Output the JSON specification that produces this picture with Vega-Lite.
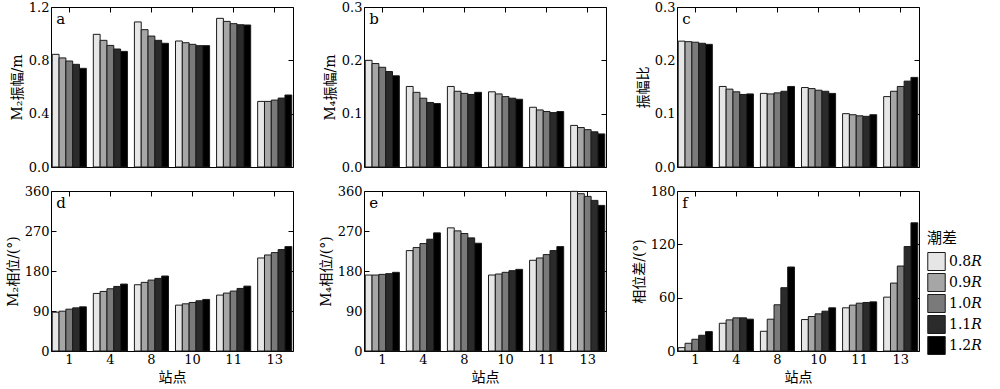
{
  "$schema": "https://vega.github.io/schema/vega-lite/v6.json",
  "padding": {"left": 5, "top": 0, "right": 0, "bottom": 0},
  "datasets": {
    "a": [
      {"s":1,"l":"0.8R","v":0.845},{"s":1,"l":"0.9R","v":0.818},{"s":1,"l":"1.0R","v":0.795},{"s":1,"l":"1.1R","v":0.770},{"s":1,"l":"1.2R","v":0.740},
      {"s":4,"l":"0.8R","v":0.995},{"s":4,"l":"0.9R","v":0.950},{"s":4,"l":"1.0R","v":0.912},{"s":4,"l":"1.1R","v":0.885},{"s":4,"l":"1.2R","v":0.867},
      {"s":8,"l":"0.8R","v":1.088},{"s":8,"l":"0.9R","v":1.030},{"s":8,"l":"1.0R","v":0.982},{"s":8,"l":"1.1R","v":0.950},{"s":8,"l":"1.2R","v":0.928},
      {"s":10,"l":"0.8R","v":0.945},{"s":10,"l":"0.9R","v":0.932},{"s":10,"l":"1.0R","v":0.920},{"s":10,"l":"1.1R","v":0.910},{"s":10,"l":"1.2R","v":0.910},
      {"s":11,"l":"0.8R","v":1.115},{"s":11,"l":"0.9R","v":1.092},{"s":11,"l":"1.0R","v":1.075},{"s":11,"l":"1.1R","v":1.067},{"s":11,"l":"1.2R","v":1.065},
      {"s":13,"l":"0.8R","v":0.492},{"s":13,"l":"0.9R","v":0.492},{"s":13,"l":"1.0R","v":0.502},{"s":13,"l":"1.1R","v":0.517},{"s":13,"l":"1.2R","v":0.540}
    ],
    "b": [
      {"s":1,"l":"0.8R","v":0.200},{"s":1,"l":"0.9R","v":0.194},{"s":1,"l":"1.0R","v":0.187},{"s":1,"l":"1.1R","v":0.179},{"s":1,"l":"1.2R","v":0.171},
      {"s":4,"l":"0.8R","v":0.151},{"s":4,"l":"0.9R","v":0.140},{"s":4,"l":"1.0R","v":0.129},{"s":4,"l":"1.1R","v":0.121},{"s":4,"l":"1.2R","v":0.119},
      {"s":8,"l":"0.8R","v":0.151},{"s":8,"l":"0.9R","v":0.142},{"s":8,"l":"1.0R","v":0.138},{"s":8,"l":"1.1R","v":0.136},{"s":8,"l":"1.2R","v":0.140},
      {"s":10,"l":"0.8R","v":0.141},{"s":10,"l":"0.9R","v":0.137},{"s":10,"l":"1.0R","v":0.132},{"s":10,"l":"1.1R","v":0.129},{"s":10,"l":"1.2R","v":0.127},
      {"s":11,"l":"0.8R","v":0.112},{"s":11,"l":"0.9R","v":0.107},{"s":11,"l":"1.0R","v":0.104},{"s":11,"l":"1.1R","v":0.102},{"s":11,"l":"1.2R","v":0.104},
      {"s":13,"l":"0.8R","v":0.078},{"s":13,"l":"0.9R","v":0.074},{"s":13,"l":"1.0R","v":0.070},{"s":13,"l":"1.1R","v":0.066},{"s":13,"l":"1.2R","v":0.062}
    ],
    "c": [
      {"s":1,"l":"0.8R","v":0.236},{"s":1,"l":"0.9R","v":0.235},{"s":1,"l":"1.0R","v":0.234},{"s":1,"l":"1.1R","v":0.232},{"s":1,"l":"1.2R","v":0.230},
      {"s":4,"l":"0.8R","v":0.151},{"s":4,"l":"0.9R","v":0.146},{"s":4,"l":"1.0R","v":0.141},{"s":4,"l":"1.1R","v":0.136},{"s":4,"l":"1.2R","v":0.137},
      {"s":8,"l":"0.8R","v":0.138},{"s":8,"l":"0.9R","v":0.137},{"s":8,"l":"1.0R","v":0.139},{"s":8,"l":"1.1R","v":0.142},{"s":8,"l":"1.2R","v":0.151},
      {"s":10,"l":"0.8R","v":0.149},{"s":10,"l":"0.9R","v":0.147},{"s":10,"l":"1.0R","v":0.144},{"s":10,"l":"1.1R","v":0.142},{"s":10,"l":"1.2R","v":0.138},
      {"s":11,"l":"0.8R","v":0.100},{"s":11,"l":"0.9R","v":0.098},{"s":11,"l":"1.0R","v":0.096},{"s":11,"l":"1.1R","v":0.095},{"s":11,"l":"1.2R","v":0.098},
      {"s":13,"l":"0.8R","v":0.132},{"s":13,"l":"0.9R","v":0.142},{"s":13,"l":"1.0R","v":0.151},{"s":13,"l":"1.1R","v":0.161},{"s":13,"l":"1.2R","v":0.168}
    ],
    "d": [
      {"s":1,"l":"0.8R","v":87.3},{"s":1,"l":"0.9R","v":89.6},{"s":1,"l":"1.0R","v":94.1},{"s":1,"l":"1.1R","v":97.1},{"s":1,"l":"1.2R","v":99.4},
      {"s":4,"l":"0.8R","v":129.5},{"s":4,"l":"0.9R","v":134.0},{"s":4,"l":"1.0R","v":140.0},{"s":4,"l":"1.1R","v":145.3},{"s":4,"l":"1.2R","v":150.6},
      {"s":8,"l":"0.8R","v":149.1},{"s":8,"l":"0.9R","v":154.4},{"s":8,"l":"1.0R","v":159.6},{"s":8,"l":"1.1R","v":163.4},{"s":8,"l":"1.2R","v":168.7},
      {"s":10,"l":"0.8R","v":103.2},{"s":10,"l":"0.9R","v":106.2},{"s":10,"l":"1.0R","v":109.2},{"s":10,"l":"1.1R","v":113.0},{"s":10,"l":"1.2R","v":116.0},
      {"s":11,"l":"0.8R","v":125.8},{"s":11,"l":"0.9R","v":130.3},{"s":11,"l":"1.0R","v":134.8},{"s":11,"l":"1.1R","v":140.8},{"s":11,"l":"1.2R","v":146.0},
      {"s":13,"l":"0.8R","v":209.3},{"s":13,"l":"0.9R","v":216.1},{"s":13,"l":"1.0R","v":221.4},{"s":13,"l":"1.1R","v":228.2},{"s":13,"l":"1.2R","v":234.9}
    ],
    "e": [
      {"s":1,"l":"0.8R","v":170.9},{"s":1,"l":"0.9R","v":170.9},{"s":1,"l":"1.0R","v":172.4},{"s":1,"l":"1.1R","v":174.0},{"s":1,"l":"1.2R","v":177.0},
      {"s":4,"l":"0.8R","v":225.9},{"s":4,"l":"0.9R","v":232.7},{"s":4,"l":"1.0R","v":241.7},{"s":4,"l":"1.1R","v":251.5},{"s":4,"l":"1.2R","v":265.8},
      {"s":8,"l":"0.8R","v":277.1},{"s":8,"l":"0.9R","v":270.3},{"s":8,"l":"1.0R","v":264.3},{"s":8,"l":"1.1R","v":254.5},{"s":8,"l":"1.2R","v":242.5},
      {"s":10,"l":"0.8R","v":170.9},{"s":10,"l":"0.9R","v":173.2},{"s":10,"l":"1.0R","v":177.0},{"s":10,"l":"1.1R","v":180.7},{"s":10,"l":"1.2R","v":183.7},
      {"s":11,"l":"0.8R","v":204.1},{"s":11,"l":"0.9R","v":209.3},{"s":11,"l":"1.0R","v":216.9},{"s":11,"l":"1.1R","v":225.9},{"s":11,"l":"1.2R","v":234.9},
      {"s":13,"l":"0.8R","v":359.2},{"s":13,"l":"0.9R","v":353.9},{"s":13,"l":"1.0R","v":347.9},{"s":13,"l":"1.1R","v":338.9},{"s":13,"l":"1.2R","v":327.6}
    ],
    "f": [
      {"s":1,"l":"0.8R","v":3.8},{"s":1,"l":"0.9R","v":8.7},{"s":1,"l":"1.0R","v":13.2},{"s":1,"l":"1.1R","v":17.7},{"s":1,"l":"1.2R","v":21.8},
      {"s":4,"l":"0.8R","v":31.2},{"s":4,"l":"0.9R","v":35.0},{"s":4,"l":"1.0R","v":37.3},{"s":4,"l":"1.1R","v":37.3},{"s":4,"l":"1.2R","v":35.8},
      {"s":8,"l":"0.8R","v":22.2},{"s":8,"l":"0.9R","v":35.8},{"s":8,"l":"1.0R","v":52.0},{"s":8,"l":"1.1R","v":71.2},{"s":8,"l":"1.2R","v":94.5},
      {"s":10,"l":"0.8R","v":35.4},{"s":10,"l":"0.9R","v":38.8},{"s":10,"l":"1.0R","v":41.8},{"s":10,"l":"1.1R","v":44.8},{"s":10,"l":"1.2R","v":48.6},
      {"s":11,"l":"0.8R","v":48.6},{"s":11,"l":"0.9R","v":51.6},{"s":11,"l":"1.0R","v":53.8},{"s":11,"l":"1.1R","v":54.6},{"s":11,"l":"1.2R","v":55.3},
      {"s":13,"l":"0.8R","v":60.6},{"s":13,"l":"0.9R","v":76.4},{"s":13,"l":"1.0R","v":95.6},{"s":13,"l":"1.1R","v":117.5},{"s":13,"l":"1.2R","v":144.2}
    ],
    "lab_a": [{"t":"a"}], "lab_b": [{"t":"b"}], "lab_c": [{"t":"c"}],
    "lab_d": [{"t":"d"}], "lab_e": [{"t":"e"}], "lab_f": [{"t":"f"}]
  },
  "concat": [
    {
      "width": 242, "height": 160,
      "resolve": {"axis": {"x": "independent", "y": "independent"}},
      "layer": [
        {"data": {"name": "a"}, "mark": {"type": "bar", "stroke": "#1a1a1a", "strokeWidth": 1},
         "encoding": {
           "x": {"field": "s", "type": "ordinal", "scale": {"paddingInner": 0.17, "paddingOuter": 0.03}, "axis": {"labels": false, "title": null}},
           "xOffset": {"field": "l", "type": "nominal", "scale": {"paddingInner": 0, "paddingOuter": 0}},
           "y": {"field": "v", "type": "quantitative", "scale": {"domain": [0, 1.2], "nice": false}, "axis": {"values": [0, 0.4, 0.8, 1.2], "format": ".1f", "title": "M₂振幅/m"}},
           "color": {"field": "l", "type": "nominal", "scale": {"domain": ["0.8R","0.9R","1.0R","1.1R","1.2R"], "range": ["#e6e6e6","#a6a6a6","#7a7a7a","#2b2b2b","#000000"]}, "legend": null}
         }},
        {"data": {"name": "a"}, "mark": {"type": "point", "opacity": 0},
         "encoding": {
           "x": {"field": "s", "type": "ordinal", "axis": {"orient": "top", "labels": false, "title": null}},
           "y": {"field": "v", "type": "quantitative", "axis": {"orient": "right", "labels": false, "title": null, "values": [0, 0.4, 0.8, 1.2]}}
         }},
        {"data": {"name": "lab_a"}, "mark": {"type": "text", "align": "left", "baseline": "top", "dx": 4, "dy": 5, "fontSize": 15},
         "encoding": {
           "x": {"datum": 1, "type": "ordinal", "bandPosition": 0, "axis": null},
           "y": {"datum": 1.2, "type": "quantitative", "axis": null},
           "text": {"field": "t"}
         }}
      ]
    },
    {
      "width": 242, "height": 160,
      "resolve": {"axis": {"x": "independent", "y": "independent"}},
      "layer": [
        {"data": {"name": "b"}, "mark": {"type": "bar", "stroke": "#1a1a1a", "strokeWidth": 1},
         "encoding": {
           "x": {"field": "s", "type": "ordinal", "scale": {"paddingInner": 0.17, "paddingOuter": 0.03}, "axis": {"labels": false, "title": null}},
           "xOffset": {"field": "l", "type": "nominal", "scale": {"paddingInner": 0, "paddingOuter": 0}},
           "y": {"field": "v", "type": "quantitative", "scale": {"domain": [0, 0.3], "nice": false}, "axis": {"values": [0, 0.1, 0.2, 0.3], "format": ".1f", "title": "M₄振幅/m"}},
           "color": {"field": "l", "type": "nominal", "scale": {"domain": ["0.8R","0.9R","1.0R","1.1R","1.2R"], "range": ["#e6e6e6","#a6a6a6","#7a7a7a","#2b2b2b","#000000"]}, "legend": null}
         }},
        {"data": {"name": "b"}, "mark": {"type": "point", "opacity": 0},
         "encoding": {
           "x": {"field": "s", "type": "ordinal", "axis": {"orient": "top", "labels": false, "title": null}},
           "y": {"field": "v", "type": "quantitative", "axis": {"orient": "right", "labels": false, "title": null, "values": [0, 0.1, 0.2, 0.3]}}
         }},
        {"data": {"name": "lab_b"}, "mark": {"type": "text", "align": "left", "baseline": "top", "dx": 4, "dy": 5, "fontSize": 15},
         "encoding": {
           "x": {"datum": 1, "type": "ordinal", "bandPosition": 0, "axis": null},
           "y": {"datum": 0.3, "type": "quantitative", "axis": null},
           "text": {"field": "t"}
         }}
      ]
    },
    {
      "width": 242, "height": 160,
      "resolve": {"axis": {"x": "independent", "y": "independent"}},
      "layer": [
        {"data": {"name": "c"}, "mark": {"type": "bar", "stroke": "#1a1a1a", "strokeWidth": 1},
         "encoding": {
           "x": {"field": "s", "type": "ordinal", "scale": {"paddingInner": 0.17, "paddingOuter": 0.03}, "axis": {"labels": false, "title": null}},
           "xOffset": {"field": "l", "type": "nominal", "scale": {"paddingInner": 0, "paddingOuter": 0}},
           "y": {"field": "v", "type": "quantitative", "scale": {"domain": [0, 0.3], "nice": false}, "axis": {"values": [0, 0.1, 0.2, 0.3], "format": ".1f", "title": "振幅比"}},
           "color": {"field": "l", "type": "nominal", "scale": {"domain": ["0.8R","0.9R","1.0R","1.1R","1.2R"], "range": ["#e6e6e6","#a6a6a6","#7a7a7a","#2b2b2b","#000000"]}, "legend": null}
         }},
        {"data": {"name": "c"}, "mark": {"type": "point", "opacity": 0},
         "encoding": {
           "x": {"field": "s", "type": "ordinal", "axis": {"orient": "top", "labels": false, "title": null}},
           "y": {"field": "v", "type": "quantitative", "axis": {"orient": "right", "labels": false, "title": null, "values": [0, 0.1, 0.2, 0.3]}}
         }},
        {"data": {"name": "lab_c"}, "mark": {"type": "text", "align": "left", "baseline": "top", "dx": 4, "dy": 5, "fontSize": 15},
         "encoding": {
           "x": {"datum": 1, "type": "ordinal", "bandPosition": 0, "axis": null},
           "y": {"datum": 0.3, "type": "quantitative", "axis": null},
           "text": {"field": "t"}
         }}
      ]
    },
    {
      "width": 242, "height": 160,
      "resolve": {"axis": {"x": "independent", "y": "independent"}},
      "layer": [
        {"data": {"name": "d"}, "mark": {"type": "bar", "stroke": "#1a1a1a", "strokeWidth": 1},
         "encoding": {
           "x": {"field": "s", "type": "ordinal", "scale": {"paddingInner": 0.17, "paddingOuter": 0.03}, "axis": {"title": "站点"}},
           "xOffset": {"field": "l", "type": "nominal", "scale": {"paddingInner": 0, "paddingOuter": 0}},
           "y": {"field": "v", "type": "quantitative", "scale": {"domain": [0, 360], "nice": false}, "axis": {"values": [0, 90, 180, 270, 360], "title": "M₂相位/(°)"}},
           "color": {"field": "l", "type": "nominal", "scale": {"domain": ["0.8R","0.9R","1.0R","1.1R","1.2R"], "range": ["#e6e6e6","#a6a6a6","#7a7a7a","#2b2b2b","#000000"]}, "legend": null}
         }},
        {"data": {"name": "d"}, "mark": {"type": "point", "opacity": 0},
         "encoding": {
           "x": {"field": "s", "type": "ordinal", "axis": {"orient": "top", "labels": false, "title": null}},
           "y": {"field": "v", "type": "quantitative", "axis": {"orient": "right", "labels": false, "title": null, "values": [0, 90, 180, 270, 360]}}
         }},
        {"data": {"name": "lab_d"}, "mark": {"type": "text", "align": "left", "baseline": "top", "dx": 4, "dy": 5, "fontSize": 15},
         "encoding": {
           "x": {"datum": 1, "type": "ordinal", "bandPosition": 0, "axis": null},
           "y": {"datum": 360, "type": "quantitative", "axis": null},
           "text": {"field": "t"}
         }}
      ]
    },
    {
      "width": 242, "height": 160,
      "resolve": {"axis": {"x": "independent", "y": "independent"}},
      "layer": [
        {"data": {"name": "e"}, "mark": {"type": "bar", "stroke": "#1a1a1a", "strokeWidth": 1},
         "encoding": {
           "x": {"field": "s", "type": "ordinal", "scale": {"paddingInner": 0.17, "paddingOuter": 0.03}, "axis": {"title": "站点"}},
           "xOffset": {"field": "l", "type": "nominal", "scale": {"paddingInner": 0, "paddingOuter": 0}},
           "y": {"field": "v", "type": "quantitative", "scale": {"domain": [0, 360], "nice": false}, "axis": {"values": [0, 90, 180, 270, 360], "title": "M₄相位/(°)"}},
           "color": {"field": "l", "type": "nominal", "scale": {"domain": ["0.8R","0.9R","1.0R","1.1R","1.2R"], "range": ["#e6e6e6","#a6a6a6","#7a7a7a","#2b2b2b","#000000"]}, "legend": null}
         }},
        {"data": {"name": "e"}, "mark": {"type": "point", "opacity": 0},
         "encoding": {
           "x": {"field": "s", "type": "ordinal", "axis": {"orient": "top", "labels": false, "title": null}},
           "y": {"field": "v", "type": "quantitative", "axis": {"orient": "right", "labels": false, "title": null, "values": [0, 90, 180, 270, 360]}}
         }},
        {"data": {"name": "lab_e"}, "mark": {"type": "text", "align": "left", "baseline": "top", "dx": 4, "dy": 5, "fontSize": 15},
         "encoding": {
           "x": {"datum": 1, "type": "ordinal", "bandPosition": 0, "axis": null},
           "y": {"datum": 360, "type": "quantitative", "axis": null},
           "text": {"field": "t"}
         }}
      ]
    },
    {
      "width": 242, "height": 160,
      "resolve": {"axis": {"x": "independent", "y": "independent"}},
      "layer": [
        {"data": {"name": "f"}, "mark": {"type": "bar", "stroke": "#1a1a1a", "strokeWidth": 1},
         "encoding": {
           "x": {"field": "s", "type": "ordinal", "scale": {"paddingInner": 0.17, "paddingOuter": 0.03}, "axis": {"title": "站点"}},
           "xOffset": {"field": "l", "type": "nominal", "scale": {"paddingInner": 0, "paddingOuter": 0}},
           "y": {"field": "v", "type": "quantitative", "scale": {"domain": [0, 180], "nice": false}, "axis": {"values": [0, 60, 120, 180], "title": "相位差/(°)"}},
           "color": {"field": "l", "type": "nominal", "scale": {"domain": ["0.8R","0.9R","1.0R","1.1R","1.2R"], "range": ["#e6e6e6","#a6a6a6","#7a7a7a","#2b2b2b","#000000"]},
             "legend": {"title": "潮差", "orient": "none", "legendX": 250, "legendY": 40, "symbolType": "M-0.97,-1H0.97V1H-0.97Z", "symbolSize": 324, "symbolStrokeColor": "#1a1a1a", "symbolStrokeWidth": 1, "symbolOpacity": 1, "rowPadding": -4, "labelFontSize": 14, "titleFontSize": 15, "titleFontWeight": "normal", "labelOffset": 3, "titlePadding": 6, "labelExpr": "replace(datum.label, 'R', '𝑅')"}}
         }},
        {"data": {"name": "f"}, "mark": {"type": "point", "opacity": 0},
         "encoding": {
           "x": {"field": "s", "type": "ordinal", "axis": {"orient": "top", "labels": false, "title": null}},
           "y": {"field": "v", "type": "quantitative", "axis": {"orient": "right", "labels": false, "title": null, "values": [0, 60, 120, 180]}}
         }},
        {"data": {"name": "lab_f"}, "mark": {"type": "text", "align": "left", "baseline": "top", "dx": 4, "dy": 5, "fontSize": 15},
         "encoding": {
           "x": {"datum": 1, "type": "ordinal", "bandPosition": 0, "axis": null},
           "y": {"datum": 180, "type": "quantitative", "axis": null},
           "text": {"field": "t"}
         }}
      ]
    }
  ],
  "columns": 3,
  "spacing": {"row": 9, "column": 24},
  "resolve": {"scale": {"color": "independent"}, "legend": {"color": "independent"}},
  "config": {
    "font": "DejaVu Serif, Noto Sans CJK SC",
    "view": {"stroke": "#000000", "strokeWidth": 1},
    "axis": {"grid": false, "domain": false, "tickColor": "#000000", "tickSize": -5, "tickWidth": 1, "labelFont": "DejaVu Serif, Noto Sans CJK SC", "titleFont": "DejaVu Serif, Noto Sans CJK SC", "labelFontSize": 13, "titleFontSize": 14, "titleFontWeight": "normal", "labelColor": "#000000", "titleColor": "#000000", "labelPadding": 7, "titlePadding": 4},
    "axisX": {"labelAngle": 0, "titlePadding": 4, "labelPadding": 7},
    "legend": {"labelColor": "#000000", "titleColor": "#000000", "labelFont": "DejaVu Serif, Noto Sans CJK SC", "titleFont": "DejaVu Serif, Noto Sans CJK SC"},
    "text": {"color": "#000000", "font": "DejaVu Serif, Noto Sans CJK SC"}
  }
}
